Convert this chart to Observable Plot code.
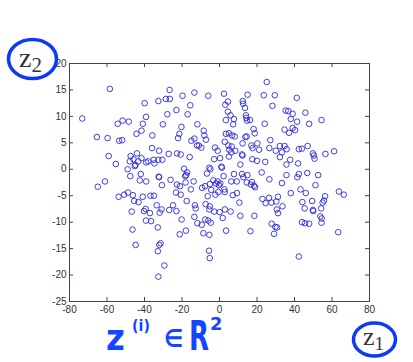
<!DOCTYPE html>
<html><head><meta charset="utf-8">
<script src="https://cdn.jsdelivr.net/npm/d3@7"></script>
<script src="https://cdn.jsdelivr.net/npm/@observablehq/plot@0.6"></script>
<style>
body{margin:0;background:#fff;}
#wrap{position:relative;width:413px;height:362px;overflow:hidden;background:#fff;}
#chart{position:absolute;left:0;top:0;}
#ann{position:absolute;left:0;top:0;pointer-events:none;}
</style></head>
<body><div id="wrap"><div id="chart"></div>
<svg id="ann" width="413" height="362">
  <text x="19" y="67" font-family="Liberation Serif" fill="#333"><tspan font-size="28">z</tspan><tspan font-size="21" dy="5">2</tspan></text>
  <ellipse cx="32.5" cy="59" rx="24" ry="19.5" fill="none" stroke="#0b3bf5" stroke-width="3.5"/>
  <text x="363" y="345" font-family="Liberation Serif" fill="#333"><tspan font-size="26">z</tspan><tspan font-size="19" dy="5">1</tspan></text>
  <ellipse cx="374.5" cy="339.5" rx="21" ry="16.5" fill="none" stroke="#0b3bf5" stroke-width="3.5"/>
  <g font-family="DejaVu Sans" font-weight="bold" fill="#1446ff">
    <text transform="translate(106,350) scale(0.9,1)" font-size="36">z</text>
    <text transform="translate(132,331) scale(0.95,1)" font-size="15">(i)</text>
    <text transform="translate(164,347) scale(0.85,1)" font-size="25">∈</text>
    <text transform="translate(189,350) scale(0.65,1)" font-size="40">R</text>
    <text transform="translate(210,330) scale(1.05,1)" font-size="17">2</text>
  </g>
</svg>
</div>
<script>
const z1Values = [25.2,-58.5,-26.6,-13.4,2.4,15.0,-6.0,-19.7,23.6,29.5,41.2,-28.6,-26.5,-32.6,-39.9,4.5,12.4,12.6,3.1,-15.6,28.2,13.6,-23.0,4.5,35.3,36.7,39.0,45.8,-27.8,-17.0,5.9,14.1,14.3,-39.2,-73.2,-51.7,-48.4,7.7,3.4,16.3,14.7,38.0,41.4,54.4,-54.3,-40.9,-30.2,-11.8,7.3,24.1,47.8,-20.3,-41.6,-8.4,18.2,34.7,39.0,40.3,37.1,-65.4,-59.7,-44.3,-35.8,-21.4,-22.1,-8.1,3.4,5.0,6.7,8.1,13.8,14.5,18.8,-53.5,-51.9,-7.2,27.1,-15.0,-13.4,2.8,12.3,20.2,-12.0,-11.0,4.7,6.5,17.0,17.6,26.6,32.2,34.7,47.0,-36.0,-9.7,-2.4,21.1,35.8,42.3,43.9,-32.2,-1.0,5.2,6.3,8.4,30.0,33.3,-44.0,-27.1,-22.7,-20.7,12.0,12.3,49.8,56.5,61.1,-59.1,-47.4,-15.9,0.3,5.0,32.2,50.3,-45.9,-41.6,-35.1,-32.6,-30.5,-2.9,17.5,20.0,37.7,50.7,-47.8,-39.1,-43.3,-38.0,24.4,41.9,-55.3,-34.7,-44.8,-45.2,11.1,35.7,1.0,-5.4,-4.9,-18.9,1.3,-49.0,-17.3,-6.7,22.5,46.8,-42.0,-17.8,-18.3,7.7,12.0,14.9,42.3,52.6,35.7,-47.6,-32.4,-32.2,41.5,2.2,12.7,-42.5,-26.1,-39.1,-13.8,-1.0,-3.3,6.3,9.2,14.5,26.6,17.3,-61.1,-18.1,-64.9,-30.7,-22.7,-21.1,-1.9,0.4,-0.3,-5.1,-7.7,-9.3,16.7,19.0,18.4,33.3,51.2,-15.3,-4.4,2.6,43.2,-23.2,-0.6,2.8,9.3,7.1,38.0,46.0,-48.8,-50.9,-46.2,-53.8,-36.8,-35.0,-20.7,-6.3,-2.2,56.3,22.9,26.4,31.2,-40.9,-45.5,-43.2,-17.5,24.6,27.7,30.3,55.7,55.0,49.4,44.2,10.6,-7.4,-13.1,-33.5,-24.8,-5.2,-12.7,-39.4,-30.9,-26.8,-5.4,2.9,5.9,0.1,-2.8,33.6,30.6,45.4,49.8,50.0,54.2,-40.3,-46.8,-37.1,-31.9,-23.0,31.2,11.1,18.6,53.8,54.5,-13.4,-20.2,-7.6,1.7,-39.2,-36.5,-6.0,-11.8,-9.5,-4.7,44.0,45.6,47.8,54.4,27.8,29.8,30.7,-32.9,-46.4,3.5,-17.9,-8.6,-21.2,-5.4,16.5,29.1,63.3,-31.4,-32.1,-44.7,-32.9,-5.6,-5.2,42.3,-29.4,-32.6,63.7,66.3];
const z2Values = [16.5,15.2,15.0,14.5,14.3,14.1,13.9,13.9,14.0,14.0,13.5,13.3,13.3,12.9,12.5,12.8,12.9,12.4,12.2,12.1,12.0,11.6,11.2,10.9,11.1,11.0,10.5,10.7,10.4,10.4,10.2,10.2,9.7,9.9,9.6,9.2,9.0,9.5,9.3,9.3,9.2,9.5,9.0,9.3,8.6,8.6,8.5,8.5,8.5,8.6,8.6,8.0,7.3,7.3,7.6,7.5,7.8,7.4,6.9,6.1,5.9,6.7,6.4,6.7,5.9,6.4,6.7,6.8,6.4,6.2,6.1,6.2,6.8,5.4,5.5,5.6,5.5,5.4,5.8,5.2,4.9,4.9,4.5,4.5,4.5,4.3,4.5,4.0,4.0,4.4,4.4,4.4,4.0,4.1,4.1,3.7,3.8,3.8,3.9,3.5,3.5,3.7,3.2,3.5,3.5,3.2,3.0,2.9,3.0,2.8,2.8,2.6,3.0,2.9,3.4,2.5,2.5,2.3,2.1,2.4,2.3,2.6,1.9,2.1,1.8,1.8,1.8,1.9,1.9,1.6,1.8,2.0,1.5,1.3,1.5,1.5,1.4,1.1,1.0,1.1,0.8,0.6,0.9,0.9,0.5,0.3,0.0,0.1,0.3,0.0,-0.6,-0.8,-0.6,-0.7,-0.9,-1.1,-1.3,-0.9,-0.9,-1.1,-0.9,-1.1,-1.1,-1.3,-1.4,-1.5,-1.5,-1.3,-1.5,-2.1,-2.0,-2.3,-2.3,-2.3,-2.1,-2.3,-2.3,-2.5,-1.9,-2.4,-2.3,-2.5,-3.3,-3.0,-2.9,-3.2,-2.7,-2.7,-3.0,-2.8,-3.2,-3.5,-2.9,-3.4,-3.1,-2.6,-3.0,-3.8,-3.9,-3.8,-3.8,-4.4,-4.3,-4.3,-4.5,-4.9,-4.5,-4.5,-4.4,-4.8,-4.9,-5.2,-5.0,-5.0,-4.8,-5.1,-4.8,-5.1,-5.6,-5.4,-5.2,-5.2,-6.0,-6.2,-6.0,-6.4,-6.3,-6.1,-5.9,-6.3,-6.0,-6.2,-6.3,-6.6,-6.8,-6.8,-6.8,-7.0,-7.4,-7.5,-7.6,-7.7,-7.6,-7.6,-8.0,-8.1,-8.0,-7.0,-7.6,-7.4,-7.7,-7.9,-7.4,-7.9,-8.0,-8.3,-8.2,-7.9,-8.3,-8.8,-8.8,-8.9,-9.3,-9.0,-9.5,-9.5,-9.2,-9.7,-9.8,-9.7,-10.2,-10.5,-10.1,-10.0,-10.2,-10.3,-10.1,-10.3,-10.9,-11.0,-11.0,-11.4,-11.6,-11.6,-12.1,-12.3,-12.4,-11.7,-12.2,-11.9,-14.0,-14.3,-14.3,-15.5,-15.4,-16.8,-16.5,-18.2,-20.3,-4.2,-4.8];
const xTicks = [-80,-60,-40,-20,0,20,40,60,80];
const yTicks = [-25,-20,-15,-10,-5,0,5,10,15,20];

const points = z1Values.map((v, i) => ({z1: v, z2: z2Values[i]}));
const H = 362, mt = 63, mb = 61, inner = H - mt - mb;

const chart = Plot.plot({
  width: 413, height: H,
  marginLeft: 69, marginRight: 44, marginTop: mt, marginBottom: mb,
  style: {fontFamily: "Liberation Sans, Arial, sans-serif", fontSize: "10px", color: "#333", background: "transparent"},
  x: {domain: [-80, 80]},
  y: {domain: [-25, 20]},
  marks: [
    Plot.frame({stroke: "#444", strokeWidth: 1}),
    Plot.axisX(xTicks, {tickSize: 0, tickPadding: 4, label: null, fill: "#333", tickFormat: d => d}),
    Plot.axisY(yTicks, {tickSize: 0, tickPadding: 3, label: null, fill: "#333", tickFormat: d => d}),
    Plot.tickX(xTicks, {x: d => d, insetTop: inner - 4, stroke: "#444"}),
    Plot.tickX(xTicks, {x: d => d, insetBottom: inner - 4, stroke: "#444"}),
    Plot.tickY(yTicks, {y: d => d, insetRight: 300 - 4, stroke: "#444"}),
    Plot.tickY(yTicks, {y: d => d, insetLeft: 300 - 4, stroke: "#444"}),
    Plot.dot(points, {x: "z1", y: "z2", r: 2.8, stroke: "#2a2ad8", strokeWidth: 0.9, fill: "none"})
  ]
});
document.getElementById("chart").appendChild(chart);
</script>
</body></html>
